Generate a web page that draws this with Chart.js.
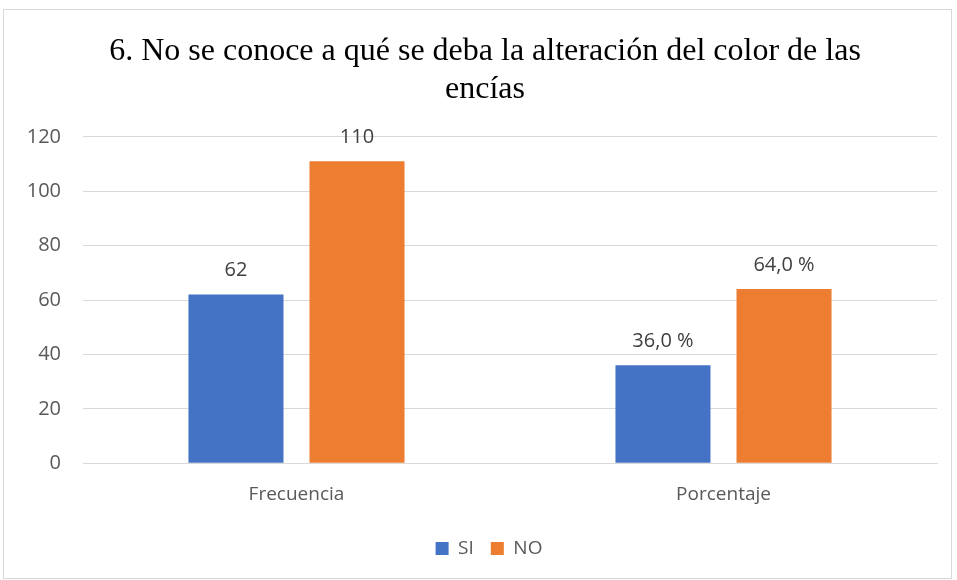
<!DOCTYPE html>
<html>
<head>
<meta charset="utf-8">
<script src="https://cdn.jsdelivr.net/npm/chart.js@4"></script>
<style>
  html, body { margin: 0; padding: 0; background: #fff; }
  #wrap { width: 957px; height: 580px; }
</style>
</head>
<body>
<div id="wrap"><canvas id="myChart" width="957" height="580"></canvas></div>
<script>
// datos
const categories = ['Frecuencia', 'Porcentaje'];
const siValues = [62, 36];
const noValues = [111, 64];
const siLabels = ['62', '36,0 %'];
const noLabels = ['110', '64,0 %'];
const yTicks = [0, 20, 40, 60, 80, 100, 120];

// etiquetas encima de las barras + marco del gráfico
const extras = {
  id: 'extras',
  afterLayout(chart) {
    // título y leyenda del original están un poco desplazados
    chart.titleBlock.left += 4;
    chart.titleBlock.right += 4;
    chart.legend.left += 8;
    chart.legend.right += 8;
    chart.legend.top += 4;
    chart.legend.bottom += 4;
  },
  beforeDraw(chart) {
    const c = chart.ctx;
    c.save();
    c.strokeStyle = '#d9d9d9';
    c.lineWidth = 1;
    c.strokeRect(3.5, 9.5, 948, 569);
    c.restore();
  },
  afterDatasetsDraw(chart) {
    const c = chart.ctx;
    const texts = [siLabels, noLabels];
    c.save();
    c.font = '20px "Open Sans"';
    c.fillStyle = '#404040';
    c.textAlign = 'center';
    c.textBaseline = 'bottom';
    chart.data.datasets.forEach((ds, i) => {
      chart.getDatasetMeta(i).data.forEach((bar, j) => {
        c.fillText(texts[i][j], bar.x, bar.y - 14);
      });
    });
    c.restore();
  }
};

const ctx = document.getElementById('myChart').getContext('2d');
const myChart = new Chart(ctx, {
  type: 'bar',
  data: {
    labels: categories,
    datasets: [
      { label: 'SI', data: siValues, backgroundColor: '#4472c4' },
      { label: 'NO', data: noValues, backgroundColor: '#ed7d31' }
    ]
  },
  options: {
    responsive: false,
    animation: false,
    layout: { padding: { left: 25, right: 20, top: 0, bottom: 16 } },
    datasets: { bar: { categoryPercentage: 0.567, barPercentage: 0.785 } },
    scales: {
      x: {
        grid: { display: false },
        border: { color: '#d9d9d9' },
        ticks: { color: '#595959', font: { family: 'Open Sans', size: 19 }, padding: 12 }
      },
      y: {
        min: 0,
        max: 120,
        afterBuildTicks(axis) { axis.ticks = yTicks.map(v => ({ value: v })); },
        afterFit(axis) { axis.width = 58; },
        grid: { color: '#d9d9d9', drawTicks: false },
        border: { display: false },
        ticks: { color: '#595959', font: { family: 'Open Sans', size: 20 }, padding: 22 }
      }
    },
    plugins: {
      title: {
        display: true,
        text: ['6. No se conoce a qué se deba la alteración del color de las', 'encías'],
        font: { family: 'Liberation Serif', size: 32, weight: 'normal', lineHeight: 1.2 },
        color: '#000',
        padding: { top: 32, bottom: 28 }
      },
      legend: {
        position: 'bottom',
        labels: {
          color: '#595959',
          font: { family: 'Open Sans', size: 19 },
          boxWidth: 13,
          boxHeight: 13,
          padding: 17
        }
      },
      tooltip: { enabled: false }
    }
  },
  plugins: [extras]
});
</script>
</body>
</html>
